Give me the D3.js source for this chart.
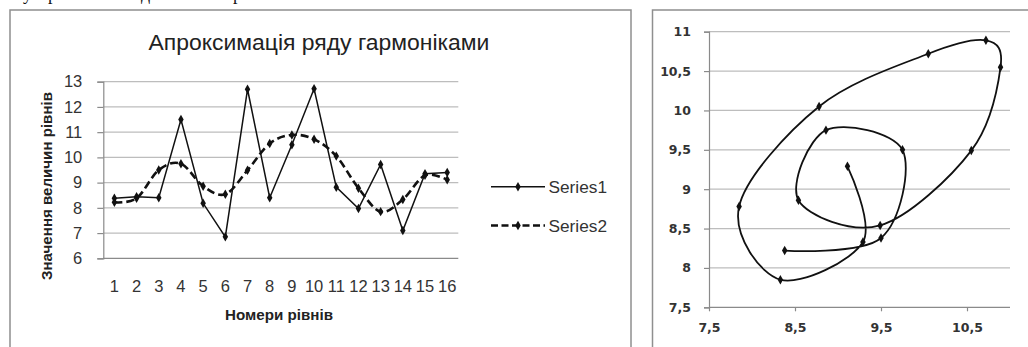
<!DOCTYPE html>
<html>
<head>
<meta charset="utf-8">
<script src="https://cdn.jsdelivr.net/npm/d3@7"></script>
<style>
html,body{margin:0;padding:0;background:#fff;}
svg{display:block;}
</style>
</head>
<body>
<svg id="c" width="1028" height="347"></svg>
<script>
// ---------- data ----------
const categories = ["1","2","3","4","5","6","7","8","9","10","11","12","13","14","15","16"];
const series1 = [8.38, 8.44, 8.40, 11.50, 8.18, 6.85, 12.70, 8.40, 10.50, 12.72, 8.82, 7.97, 9.72, 7.10, 9.35, 9.40];
const series2 = [8.22, 8.38, 9.50, 9.75, 8.86, 8.54, 9.49, 10.55, 10.89, 10.72, 10.05, 8.78, 7.85, 8.33, 9.29, 9.11];
const seriesNames = ["Series1", "Series2"];
const leftYTicks = [6, 7, 8, 9, 10, 11, 12, 13];
const rightXTicks = [7.5, 8.5, 9.5, 10.5];
const rightYTicks = [7.5, 8, 8.5, 9, 9.5, 10, 10.5, 11];
const chartTitle = "Апроксимація ряду гармоніками";
const xTitle = "Номери рівнів";
const yTitle = "Значення величин рівнів";
// phase plot: x = series2[t+1], y = series2[t]
const phaseX = series2.slice(1);
const phaseY = series2.slice(0, -1);

const svg = d3.select("#c");
const gridC = "#bdbdbd", axisC = "#8a8a8a", frameC = "#8f8f8f";

function fit(sel, w) {
  const node = sel.node();
  const fs = parseFloat(sel.attr("font-size"));
  const len = node.getComputedTextLength();
  if (len > 0) sel.attr("font-size", (fs * w / len).toFixed(2));
}

// cut-off document text at the very top
svg.append("text").attr("y", 0).attr("font-family", "Liberation Serif")
  .attr("font-size", 18).attr("fill", "#111")
  .attr("x", "23 48 141 233").text("урдр");

// frames
svg.append("rect").attr("x", 10).attr("y", 10).attr("width", 621).attr("height", 360)
  .attr("fill", "#fff").attr("stroke", frameC).attr("stroke-width", 1.5);
svg.append("rect").attr("x", 652.5).attr("y", 10).attr("width", 400).attr("height", 360)
  .attr("fill", "#fff").attr("stroke", frameC).attr("stroke-width", 1.5);

// ---------- left chart ----------
const L = svg.append("g");
const x = d3.scaleBand().domain(categories).range([103.3, 458.3]);
const y = d3.scaleLinear().domain([6, 13]).range([258.3, 81.7]);
const cx = d => x(d) + x.bandwidth() / 2;

L.append("g").selectAll("line").data(leftYTicks).join("line")
  .attr("x1", 103.3).attr("x2", 458.3)
  .attr("y1", d => y(d)).attr("y2", d => y(d))
  .attr("stroke", d => d === 6 ? axisC : gridC).attr("stroke-width", 1.2);

const yAx = L.append("g").attr("transform", "translate(103.3,0)")
  .call(d3.axisLeft(y).tickValues(leftYTicks).tickSize(6).tickPadding(15).tickFormat(d3.format("d")));
yAx.select(".domain").attr("stroke", axisC).attr("stroke-width", 1.2);
yAx.selectAll(".tick line").attr("stroke", axisC).attr("stroke-width", 1.2);
yAx.selectAll(".tick text").attr("font-family", "Liberation Sans").attr("font-size", 16.5).attr("fill", "#333");

const xAx = L.append("g").attr("transform", "translate(0,258.3)")
  .call(d3.axisBottom(x).tickSize(0).tickPadding(22));
xAx.select(".domain").remove();
xAx.selectAll(".tick text").attr("font-family", "Liberation Sans").attr("font-size", 16.5).attr("fill", "#333");

const t = L.append("text").attr("x", 319).attr("y", 50).attr("text-anchor", "middle")
  .attr("font-family", "Liberation Sans").attr("font-size", 20).attr("fill", "#222").text(chartTitle);
fit(t, 341);
const xt = L.append("text").attr("x", 279).attr("y", 320).attr("text-anchor", "middle")
  .attr("font-family", "Liberation Sans").attr("font-weight", "bold").attr("font-size", 14)
  .attr("fill", "#222").text(xTitle);
fit(xt, 108);
const yt = L.append("text").attr("transform", "translate(52,186) rotate(-90)").attr("text-anchor", "middle")
  .attr("font-family", "Liberation Sans").attr("font-weight", "bold").attr("font-size", 14)
  .attr("fill", "#222").text(yTitle);
fit(yt, 188);

const line1 = d3.line().x((d, i) => cx(categories[i])).y(d => y(d));
const line2 = d3.line().x((d, i) => cx(categories[i])).y(d => y(d)).curve(d3.curveCardinal.tension(0));
L.append("path").attr("d", line2(series2)).attr("fill", "none").attr("stroke", "#111")
  .attr("stroke-width", 2.6).attr("stroke-dasharray", "8,4");
L.append("path").attr("d", line1(series1)).attr("fill", "none").attr("stroke", "#111").attr("stroke-width", 1.5);
const diamond = d3.symbol(d3.symbolDiamond).size(26);
L.append("g").selectAll("path").data(series1).join("path")
  .attr("transform", (d, i) => `translate(${cx(categories[i])},${y(d)})`).attr("d", diamond).attr("fill", "#111");
L.append("g").selectAll("path").data(series2).join("path")
  .attr("transform", (d, i) => `translate(${cx(categories[i])},${y(d)})`).attr("d", diamond).attr("fill", "#111");

// legend
const legY = [186.8, 225.5];
seriesNames.forEach((n, i) => {
  const g = L.append("g");
  g.append("line").attr("x1", 491).attr("x2", 545).attr("y1", legY[i]).attr("y2", legY[i])
    .attr("stroke", "#111").attr("stroke-width", i ? 2.6 : 1.5).attr("stroke-dasharray", i ? "7,3.5" : null);
  g.append("path").attr("transform", `translate(518,${legY[i]})`).attr("d", diamond).attr("fill", "#111");
  const tx = g.append("text").attr("x", 548.5).attr("y", legY[i] + 6).attr("font-family", "Liberation Sans")
    .attr("font-size", 16).attr("fill", "#333").text(n);
  fit(tx, 58.5);
});

// ---------- right chart ----------
const R = svg.append("g");
const fmt = d3.formatLocale({decimal: ",", thousands: " ", grouping: [3], currency: ["", ""]});
const f = v => fmt.format("~g")(v);
const rx = d3.scaleLinear().domain([7.5, 11]).range([709, 1010]);
const ry = d3.scaleLinear().domain([7.5, 11]).range([307.3, 31.7]);

R.append("g").selectAll("line").data(rightYTicks.filter(d => d !== 7.5)).join("line")
  .attr("x1", 709).attr("x2", 1010).attr("y1", d => ry(d)).attr("y2", d => ry(d))
  .attr("stroke", gridC).attr("stroke-width", 1.2);

const ryAx = R.append("g").attr("transform", "translate(709,0)")
  .call(d3.axisLeft(ry).tickValues(rightYTicks).tickSize(5).tickPadding(13).tickFormat(f));
ryAx.select(".domain").attr("stroke", axisC).attr("stroke-width", 1.2);
ryAx.selectAll(".tick line").attr("stroke", axisC).attr("stroke-width", 1.2);
ryAx.selectAll(".tick text").attr("font-family", "DejaVu Sans").attr("font-weight", "bold")
  .attr("font-size", 12.5).attr("fill", "#333");

const rxAx = R.append("g").attr("transform", "translate(0,307.3)")
  .call(d3.axisBottom(rx).tickValues(rightXTicks).tickSize(4).tickPadding(12).tickFormat(f));
rxAx.select(".domain").attr("stroke", axisC).attr("stroke-width", 1.2).attr("d", "M709,0H1010");
rxAx.selectAll(".tick line").attr("stroke", axisC).attr("stroke-width", 1.2);
rxAx.selectAll(".tick text").attr("font-family", "DejaVu Sans").attr("font-weight", "bold")
  .attr("font-size", 12.5).attr("fill", "#333");

const phase = phaseX.map((v, i) => [v, phaseY[i]]);
const pline = d3.line().x(d => rx(d[0])).y(d => ry(d[1])).curve(d3.curveCardinal.tension(0));
R.append("path").attr("d", pline(phase)).attr("fill", "none").attr("stroke", "#111").attr("stroke-width", 1.8);
R.append("g").selectAll("path").data(phase).join("path")
  .attr("transform", d => `translate(${rx(d[0])},${ry(d[1])})`).attr("d", diamond).attr("fill", "#111");
</script>
</body>
</html>
